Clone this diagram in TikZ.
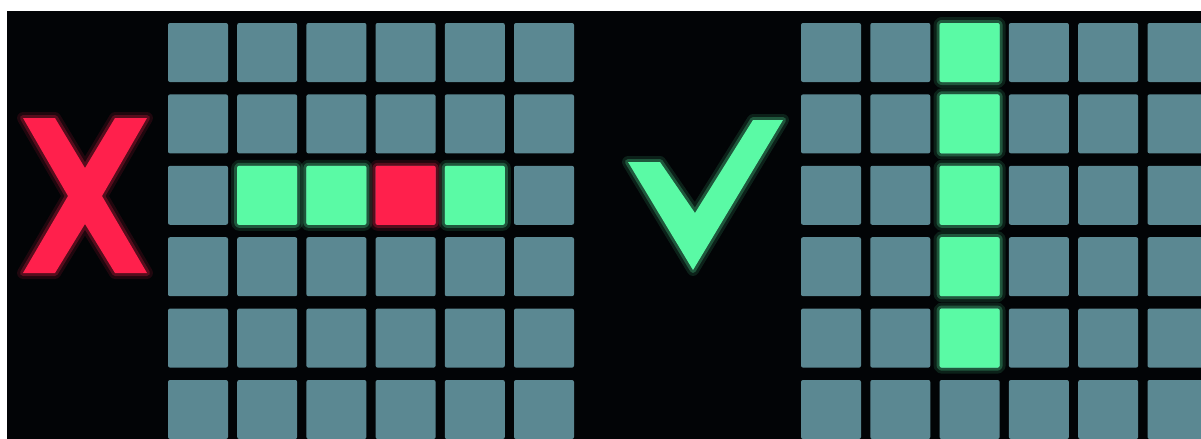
\documentclass[tikz,border=0pt]{standalone}
\definecolor{cellgray}{RGB}{91,136,146}
\definecolor{hitgreen}{RGB}{90,250,165}
\definecolor{missred}{RGB}{255,32,76}
\definecolor{bgblack}{RGB}{2,4,6}
\begin{document}
\begin{tikzpicture}[
        x=0.5pt, y=-0.5pt,
        cell/.style={rectangle, minimum width=30pt, minimum height=29.5pt, inner sep=0pt, rounded corners=1pt, fill=cellgray},
        glow/.style={preaction={draw=#1, draw opacity=0.12, line width=6pt, line join=round},
                     preaction={draw=#1, draw opacity=0.25, line width=3pt, line join=round}},
        hit/.style={cell, fill=hitgreen, glow=hitgreen},
        miss/.style={cell, fill=missred, glow=missred}
    ]

    \useasboundingbox (0,0) rectangle (1201,439);
    \clip (0,0) rectangle (1201,439);
    \fill[white] (0,0) rectangle (1201,439);
    \fill[bgblack] (7,11) rectangle (1201,439);

    % Left grid
    \foreach \r in {1,...,6} {
        \foreach \c in {1,...,6} {
            \node[cell] (L-\r-\c) at ({198+69.2*(\c-1)}, {52.5+71.4*(\r-1)}) {};
        }
    }
    \node[hit] (l1) at (L-3-2) {};
    \node[hit] (l2) at (L-3-3) {};
    \node[miss] (l3) at (L-3-4) {};
    \node[hit] (l4) at (L-3-5) {};

    % Right grid
    \foreach \r in {1,...,6} {
        \foreach \c in {1,...,6} {
            \node[cell] (R-\r-\c) at ({831+69.3*(\c-1)}, {52.5+71.4*(\r-1)}) {};
        }
    }
    \foreach \r in {1,...,5} {
        \node[hit] (r\r) at (R-\r-3) {};
    }

    % Cross
    \fill[missred, glow=missred] (23,118) -- (55,118) -- (85,168) -- (115,118) -- (147,118)
        -- (102,196) -- (147,273) -- (115,273) -- (85,224) -- (55,273) -- (23,273)
        -- (68,196) -- cycle;

    % Tick
    \fill[hitgreen, glow=hitgreen] (628,162) -- (660,162) -- (695,213) -- (753,120)
        -- (783,120) -- (693,270) -- cycle;

\end{tikzpicture}
\end{document}
